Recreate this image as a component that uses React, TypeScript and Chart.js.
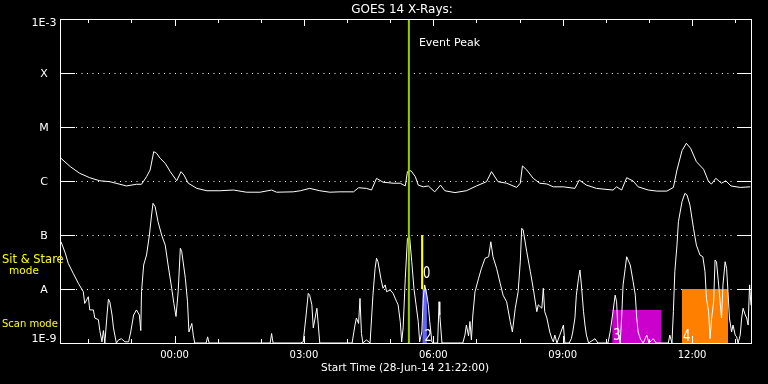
import React, { useEffect, useRef } from 'react';
import { Chart, registerables } from 'chart.js';
Chart.register(...registerables);

// ---- Data (time in minutes after start 28-Jun-14 21:22:00, flux in W/m^2) ----
const longTimes = [0, 13, 26, 40, 54, 68, 82, 91, 105, 112, 119, 124, 129, 133, 138, 145, 152, 161, 167, 171, 177, 189, 203, 221, 240, 258, 277, 293, 300, 323, 333, 346, 360, 374, 388, 407, 414, 425, 432, 439, 448, 462, 472, 479, 482, 487, 493, 497, 504, 511, 520, 528, 534, 548, 564, 578, 592, 599, 608, 620, 634, 639, 642, 648, 657, 666, 676, 685, 699, 715, 721, 731, 745, 768, 773, 780, 787, 796, 803, 817, 829, 843, 852, 857, 864, 870, 876, 884, 894, 901, 905, 911, 919, 925, 932, 945, 959];
const longFlux = [2.63e-6, 1.84e-6, 1.39e-6, 1.15e-6, 1.01e-6, 0.97e-6, 0.87e-6, 0.81e-6, 0.87e-6, 0.87e-6, 1.2e-6, 1.6e-6, 3.49e-6, 3.26e-6, 2.63e-6, 2.13e-6, 1.49e-6, 1.01e-6, 1.49e-6, 1.29e-6, 0.91e-6, 0.73e-6, 0.66e-6, 0.66e-6, 0.68e-6, 0.62e-6, 0.62e-6, 0.68e-6, 0.62e-6, 0.63e-6, 0.66e-6, 0.73e-6, 0.66e-6, 0.62e-6, 0.63e-6, 0.63e-6, 0.75e-6, 0.73e-6, 0.68e-6, 1.12e-6, 0.95e-6, 0.91e-6, 0.91e-6, 0.81e-6, 1.49e-6, 1.55e-6, 1.2e-6, 0.84e-6, 0.78e-6, 0.81e-6, 0.63e-6, 0.84e-6, 0.66e-6, 0.61e-6, 0.66e-6, 0.81e-6, 0.97e-6, 1.49e-6, 0.97e-6, 0.91e-6, 0.76e-6, 0.91e-6, 1.9e-6, 1.6e-6, 1.12e-6, 0.91e-6, 0.88e-6, 0.78e-6, 0.78e-6, 0.73e-6, 1.04e-6, 0.84e-6, 0.73e-6, 0.68e-6, 0.78e-6, 0.68e-6, 1.15e-6, 1.0e-6, 0.78e-6, 0.68e-6, 0.65e-6, 0.65e-6, 0.76e-6, 1.6e-6, 3.64e-6, 4.99e-6, 4.03e-6, 2.28e-6, 1.65e-6, 0.97e-6, 0.88e-6, 1.12e-6, 0.91e-6, 1.01e-6, 0.81e-6, 0.76e-6, 0.78e-6];

const shortTimes = [0, 6, 10, 17, 24, 31, 33, 38, 40, 45, 47, 52, 54, 57, 59, 61, 64, 66, 68, 71, 73, 77, 80, 84, 89, 94, 97, 101, 105, 109, 111, 112, 115, 119, 123, 126, 128, 131, 135, 140, 145, 149, 154, 157, 160, 163, 166, 168, 173, 176, 178, 182, 184, 186, 202, 204, 206, 291, 293, 295, 333, 337, 341, 344, 346, 349, 351, 356, 358, 360, 405, 409, 411, 414, 416, 418, 420, 425, 430, 434, 437, 439, 441, 445, 448, 451, 453, 458, 462, 467, 469, 472, 474, 476, 479, 482, 485, 488, 491, 494, 497, 499, 502, 504, 506, 509, 511, 513, 516, 518, 524, 526, 527, 530, 559, 562, 564, 567, 569, 571, 573, 576, 581, 585, 590, 595, 598, 601, 606, 611, 615, 620, 625, 628, 632, 636, 639, 641, 643, 648, 653, 657, 662, 664, 669, 671, 673, 676, 678, 680, 683, 685, 687, 690, 694, 699, 701, 707, 710, 712, 715, 717, 720, 722, 724, 727, 729, 731, 734, 743, 747, 761, 764, 768, 771, 773, 775, 778, 780, 782, 785, 787, 792, 796, 799, 801, 803, 806, 810, 815, 818, 824, 828, 845, 847, 850, 852, 854, 857, 859, 864, 868, 871, 875, 880, 884, 889, 893, 896, 898, 901, 903, 905, 908, 910, 912, 915, 917, 919, 921, 924, 926, 928, 930, 933, 935, 938, 940, 942, 945, 947, 949, 952, 954, 956, 958, 960];
const shortFlux = [7.5e-8, 4.6e-8, 3.0e-8, 1.95e-8, 1.28e-8, 8.9e-9, 5.4e-9, 7.2e-9, 4.1e-9, 4.1e-9, 2.9e-9, 2.7e-9, 1.7e-9, 1.05e-9, 1.7e-9, 1e-9, 3.3e-9, 6.5e-9, 5.7e-9, 3.3e-9, 1.9e-9, 1e-9, 1.14e-9, 1.2e-9, 1.05e-9, 1.05e-9, 1.6e-9, 3.3e-9, 4.1e-9, 3.3e-9, 1.7e-9, 8.9e-9, 2.78e-8, 4.26e-8, 1.0e-7, 2.35e-7, 3.86e-7, 3.34e-7, 1.76e-7, 1.0e-7, 6.5e-8, 2.78e-8, 1.03e-8, 5.4e-9, 3.1e-9, 8.9e-9, 5.67e-8, 4.9e-8, 1.58e-8, 5.8e-9, 1.6e-9, 2.3e-9, 1.4e-9, 1e-9, 1e-9, 1.3e-9, 1e-9, 1e-9, 1.5e-9, 1e-9, 1e-9, 1.05e-9, 3.3e-9, 8.3e-9, 7.7e-9, 5.1e-9, 1.9e-9, 4.4e-9, 2.15e-9, 1e-9, 1e-9, 2.15e-9, 2.9e-9, 2.3e-9, 6.7e-9, 1.5e-9, 1e-9, 1.14e-9, 1e-9, 7.7e-9, 2.42e-8, 3.7e-8, 3.2e-8, 1.58e-8, 1.03e-8, 1.19e-8, 8.9e-9, 9.6e-9, 8.3e-9, 5.8e-9, 5.1e-9, 2.5e-9, 1.05e-9, 1.9e-9, 1.58e-8, 8.7e-8, 9.3e-8, 3.2e-8, 1.03e-8, 5.1e-9, 2.5e-9, 1.05e-9, 1.6e-9, 6.7e-9, 1.19e-8, 7.7e-9, 5.1e-9, 2.5e-9, 1.05e-9, 1e-9, 1e-9, 5.8e-9, 3.3e-9, 1e-9, 1e-9, 1.4e-9, 2.15e-9, 1.35e-9, 2.5e-9, 1.14e-9, 3.3e-9, 8.9e-9, 1.58e-8, 2.42e-8, 3.7e-8, 3.96e-8, 7.5e-8, 3.96e-8, 2.42e-8, 1.28e-8, 7.7e-9, 5.8e-9, 2.5e-9, 1.6e-9, 4.4e-9, 8.9e-9, 3.2e-8, 1.33e-7, 1.24e-7, 4.9e-8, 2.09e-8, 1.03e-8, 3.8e-9, 5.1e-9, 4.4e-9, 1.03e-8, 3.8e-9, 2.9e-9, 2.15e-9, 1.6e-9, 1.2e-9, 1.05e-9, 1.4e-9, 1e-9, 1.4e-9, 2.15e-9, 1e-9, 1e-9, 1.2e-9, 1.6e-9, 2.9e-9, 7.7e-9, 1.58e-8, 2.25e-8, 1.19e-8, 3.8e-9, 2.15e-9, 1.4e-9, 1e-9, 1.2e-9, 1e-9, 1e-9, 1.6e-9, 3.8e-9, 7.7e-9, 5.8e-9, 1.6e-9, 1e-9, 2.9e-9, 1.19e-8, 2.42e-8, 3.96e-8, 2.78e-8, 1.37e-8, 7.7e-9, 2.9e-9, 1.6e-9, 1.2e-9, 1e-9, 1.4e-9, 1e-9, 1.2e-9, 1e-9, 1e-9, 1.4e-9, 1e-9, 3.8e-9, 2.09e-8, 6.5e-8, 1.76e-7, 4.14e-7, 5.9e-7, 5.5e-7, 3.6e-7, 1.33e-7, 6.5e-8, 4.26e-8, 3.96e-8, 2.09e-8, 6.7e-9, 3.8e-9, 1.2e-9, 2.7e-9, 5.8e-9, 3.44e-8, 3.2e-8, 1.19e-8, 5.8e-9, 2.9e-9, 1.19e-8, 3.2e-8, 2.42e-8, 8.9e-9, 2.9e-9, 1.6e-9, 2.15e-9, 1.4e-9, 1.3e-9, 1e-9, 1.4e-9, 2.9e-9, 4.4e-9, 3.3e-9, 2.9e-9, 2.15e-9, 1.19e-8, 5e-9];

const yTickValues = [1e-9, 1e-8, 1e-7, 1e-6, 1e-5, 1e-4, 1e-3];
const yTickLabels = ['1E-9', 'A', 'B', 'C', 'M', 'X', '1E-3'];
const xTickMinutes = [158, 338, 518, 698, 878];
const xTickLabels = ['00:00', '03:00', '06:00', '09:00', '12:00'];
const hourTickMinutes = [38, 98, 158, 218, 278, 338, 398, 458, 518, 578, 638, 698, 758, 818, 878, 938];
const eventPeakMinute = 484;

const modeBoxLabels = ['0', '2', '3', '4'];
const modeBoxStart = [501, 503, 767, 864];
const modeBoxEnd = [504, 509, 835, 928];
const modeBoxLow = [1e-8, 1e-9, 1e-9, 1e-9];
const modeBoxHigh = [1e-7, 1e-8, 4.1e-9, 1e-8];

const titleText = 'GOES 14 X-Rays:';
const xTitleText = 'Start Time (28-Jun-14 21:22:00)';
const eventText = 'Event Peak';

// ---- Styles ----
const FONT = '"DejaVu Sans", sans-serif';
const boxColors = ['#ffff00', '#6464ff', '#cc00cc', '#ff8000'];
const boxLabelDx = [2, 2, 1, 1];
const boxLabelDy = [11, 2, 3, 2];

const idlPlugin = {
  id: 'idl',
  beforeDraw(chart: any) {
    const ctx = chart.ctx;
    ctx.save();
    ctx.fillStyle = '#000';
    ctx.fillRect(0, 0, chart.width, chart.height);
    ctx.restore();
  },
  beforeDatasetsDraw(chart: any) {
    const ctx = chart.ctx;
    const { left, right } = chart.chartArea;
    const xs = chart.scales.x;
    const ys = chart.scales.y;
    const ex = xs.getPixelForValue(eventPeakMinute);
    ctx.save();
    // dotted grid lines (with a small gap around the event line on the upper ones)
    ctx.strokeStyle = '#fff';
    ctx.lineWidth = 1;
    ctx.setLineDash([1, 4.5]);
    for (let i = 1; i < yTickValues.length - 1; i++) {
      const y = Math.round(ys.getPixelForValue(yTickValues[i])) + 0.5;
      ctx.beginPath();
      if (yTickValues[i] >= 1e-5) {
        ctx.moveTo(left + 15, y);
        ctx.lineTo(ex - 5, y);
        ctx.moveTo(ex + 5, y);
        ctx.lineTo(right - 15, y);
      } else {
        ctx.moveTo(left + 15, y);
        ctx.lineTo(right - 15, y);
      }
      ctx.stroke();
    }
    ctx.setLineDash([]);
    // mode boxes
    for (let i = 0; i < modeBoxLabels.length; i++) {
      const x0 = xs.getPixelForValue(modeBoxStart[i]);
      const x1 = xs.getPixelForValue(modeBoxEnd[i]);
      const y0 = ys.getPixelForValue(modeBoxHigh[i]);
      const y1 = ys.getPixelForValue(modeBoxLow[i]);
      ctx.fillStyle = boxColors[i];
      ctx.fillRect(x0, y0, x1 - x0, y1 - y0);
    }
    ctx.restore();
  },
  afterDatasetsDraw(chart: any) {
    const ctx = chart.ctx;
    const { left, right, top, bottom } = chart.chartArea;
    const xs = chart.scales.x;
    const ys = chart.scales.y;
    ctx.save();
    // event peak line
    const ex = xs.getPixelForValue(eventPeakMinute);
    ctx.strokeStyle = '#9acd00';
    ctx.lineWidth = 2;
    ctx.beginPath();
    ctx.moveTo(ex, top);
    ctx.lineTo(ex, bottom);
    ctx.stroke();

    // frame
    ctx.strokeStyle = '#fff';
    ctx.lineWidth = 1;
    ctx.strokeRect(Math.round(left) - 0.5, Math.round(top) + 0.5, Math.round(right - left) + 1, Math.round(bottom - top));

    // y ticks
    ctx.beginPath();
    for (let i = 1; i < yTickValues.length - 1; i++) {
      const y = Math.round(ys.getPixelForValue(yTickValues[i])) + 0.5;
      ctx.moveTo(left, y);
      ctx.lineTo(left + 14, y);
      ctx.moveTo(right - 14, y);
      ctx.lineTo(right, y);
    }
    // x ticks (hour minor, 3h major)
    for (const m of hourTickMinutes) {
      const x = Math.round(xs.getPixelForValue(m)) + 0.5;
      const major = xTickMinutes.includes(m);
      const len = major ? 7 : 4;
      ctx.moveTo(x, top);
      ctx.lineTo(x, top + len);
      ctx.moveTo(x, bottom);
      ctx.lineTo(x, bottom - len);
    }
    ctx.stroke();

    ctx.fillStyle = '#fff';
    ctx.textBaseline = 'middle';
    // y labels
    ctx.font = `11px ${FONT}`;
    ctx.textAlign = 'center';
    for (let i = 0; i < yTickValues.length; i++) {
      let y = ys.getPixelForValue(yTickValues[i]) + 1;
      if (i === 0) y = bottom - 3.5;
      if (i === yTickValues.length - 1) y = top + 4;
      ctx.fillText(yTickLabels[i], 44, y);
    }
    // x labels
    ctx.font = `10px ${FONT}`;
    for (let i = 0; i < xTickMinutes.length; i++) {
      ctx.fillText(xTickLabels[i], xs.getPixelForValue(xTickMinutes[i]), bottom + 12);
    }
    // titles
    ctx.font = `10.5px ${FONT}`;
    ctx.fillText(xTitleText, (left + right) / 2 - 1, bottom + 25);
    ctx.font = `12px ${FONT}`;
    ctx.fillText(titleText, (left + right) / 2 - 4, 10);
    ctx.textAlign = 'left';
    ctx.font = `11px ${FONT}`;
    ctx.fillText(eventText, ex + 10, top + 24);

    // mode texts
    ctx.fillStyle = '#ffff00';
    ctx.font = `11.5px ${FONT}`;
    ctx.fillText('Sit & Stare', 2, 260);
    ctx.textAlign = 'center';
    ctx.font = `10.5px ${FONT}`;
    ctx.fillText('mode', 24, 271.5);
    ctx.textAlign = 'left';
    ctx.font = `10px ${FONT}`;
    ctx.fillText('Scan mode', 2, 324.5);

    // box labels
    ctx.fillStyle = '#fff';
    ctx.textBaseline = 'alphabetic';
    ctx.font = `16px ${FONT}`;
    for (let i = 0; i < modeBoxLabels.length; i++) {
      const x0 = xs.getPixelForValue(modeBoxStart[i]) + boxLabelDx[i];
      const yb = ys.getPixelForValue(modeBoxLow[i]) - boxLabelDy[i];
      ctx.save();
      ctx.translate(x0, yb);
      ctx.scale(0.72, 1);
      ctx.fillText(modeBoxLabels[i], 0, 0);
      ctx.restore();
    }
    ctx.restore();
  },
};

export default function App() {
  const ref = useRef<HTMLCanvasElement>(null);
  useEffect(() => {
    document.body.style.margin = '0';
    document.body.style.background = '#000';
    const toPts = (t: number[], f: number[]) => t.map((x, i) => ({ x, y: f[i] }));
    const chart = new Chart(ref.current!, {
      type: 'line',
      data: {
        datasets: [
          { data: toPts(longTimes, longFlux), borderColor: '#fff', borderWidth: 1, pointRadius: 0, tension: 0, fill: false },
          { data: toPts(shortTimes, shortFlux), borderColor: '#fff', borderWidth: 1, pointRadius: 0, tension: 0, fill: false },
        ],
      },
      options: {
        animation: false,
        responsive: false,
        devicePixelRatio: 1,
        events: [],
        layout: { padding: { left: 61, top: 19, right: 17, bottom: 41 } },
        plugins: { legend: { display: false }, tooltip: { enabled: false } },
        scales: {
          x: { type: 'linear', min: 0, max: 960, display: false },
          y: { type: 'logarithmic', min: 1e-9, max: 1e-3, display: false },
        },
      },
      plugins: [idlPlugin],
    } as any);
    return () => chart.destroy();
  }, []);
  return (
    <div style={{ position: 'fixed', left: 0, top: 0, width: 768, height: 384, background: '#000' }}>
      <canvas ref={ref} width={768} height={384} style={{ display: 'block', width: 768, height: 384 }} />
    </div>
  );
}
